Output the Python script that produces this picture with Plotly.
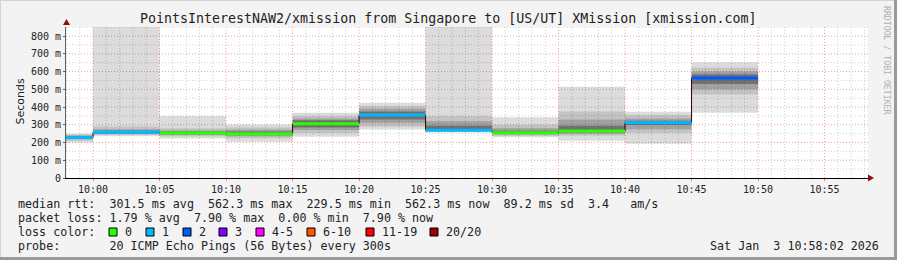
import plotly.graph_objects as go
from datetime import datetime, timedelta

# ---------------- data ----------------
seg_start = ["2026-01-03 09:55", "2026-01-03 10:00", "2026-01-03 10:05", "2026-01-03 10:10",
             "2026-01-03 10:15", "2026-01-03 10:20", "2026-01-03 10:25", "2026-01-03 10:30",
             "2026-01-03 10:35", "2026-01-03 10:40", "2026-01-03 10:45"]
seg_end_last = "2026-01-03 10:50"
median = [228, 258, 254, 250, 306, 355, 269, 255, 265, 312, 563]
loss = [1, 1, 0, 0, 0, 1, 1, 0, 0, 1, 2]
smoke_max = [250, 900, 350, 302, 368, 424, 900, 342, 514, 374, 652]
smoke_min = [200, 235, 222, 205, 232, 274, 257, 229, 210, 193, 368]
smoke_hi2 = [245, 290, 280, 285, 350, 405, 350, 300, 375, 355, 622]
smoke_lo2 = [210, 242, 235, 225, 253, 290, 262, 238, 240, 253, 470]
smoke_hi3 = [240, 275, 268, 272, 335, 390, 320, 280, 330, 335, 600]
smoke_lo3 = [218, 248, 242, 235, 270, 310, 264, 245, 250, 275, 500]
smoke_hi4 = [235, 266, 262, 262, 325, 375, 295, 266, 295, 322, 585]
smoke_lo4 = [222, 252, 248, 243, 285, 330, 266, 250, 258, 298, 530]

loss_labels = ["0", "1", "2", "3", "4-5", "6-10", "11-19", "20/20"]
loss_colors = ["#26ff00", "#00b8ff", "#0059ff", "#7e00ff", "#ff00ff", "#ff5500", "#ff0000", "#a00000"]

y_ticks = [0, 100, 200, 300, 400, 500, 600, 700, 800]
y_ticktext = ["0", "100 m", "200 m", "300 m", "400 m", "500 m", "600 m", "700 m", "800 m"]

title = "PointsInterestNAW2/xmission from Singapore to [US/UT] XMission [xmission.com]"
row_rtt = "median rtt:  301.5 ms avg  562.3 ms max  229.5 ms min  562.3 ms now  89.2 ms sd  3.4   am/s"
row_loss = "packet loss: 1.79 % avg  7.90 % max  0.00 % min  7.90 % now"
row_color = "loss color:"
row_probe = "probe:       20 ICMP Echo Pings (56 Bytes) every 300s"
stamp = "Sat Jan  3 10:58:02 2026"
x_range = ["2026-01-03 09:57:58", "2026-01-03 10:58:16"]
y_range = [0, 851]

# ---------------- layout geometry ----------------
W, H = 897, 260
L, R, T, B = 66, 868, 27, 178
MONO = "DejaVu Sans Mono"


def pxx(x):
    return (x - L) / (R - L)


def pyy(y):
    return (B - y) / (B - T)


xs = seg_start + [seg_end_last]


def step(vals):
    return list(vals) + [vals[-1]]


fig = go.Figure()

# translucent smoke so the grid shows through, like rrdtool
bands = [
    (smoke_min, smoke_max, "rgba(0,0,0,0.137)"),
    (smoke_lo2, smoke_hi2, "rgba(0,0,0,0.109)"),
    (smoke_lo3, smoke_hi3, "rgba(0,0,0,0.173)"),
    (smoke_lo4, smoke_hi4, "rgba(0,0,0,0.296)"),
]
for lo, hi, col in bands:
    fig.add_trace(go.Scatter(x=xs, y=step(lo), mode="lines", line=dict(width=0, shape="hv"),
                             hoverinfo="skip", showlegend=False))
    fig.add_trace(go.Scatter(x=xs, y=step(hi), mode="lines", line=dict(width=0, shape="hv"),
                             fill="tonexty", fillcolor=col, hoverinfo="skip", showlegend=False))

# thin dark step line for the median
fig.add_trace(go.Scatter(x=xs, y=step(median), mode="lines",
                         line=dict(width=1, color="#300000", shape="hv"),
                         hoverinfo="skip", showlegend=False))

# coloured median segments by loss
loss_bins = [0, 1, 2, 3, 5, 10, 19, 20]


def loss_idx(n):
    for i, ub in enumerate(loss_bins):
        if n <= ub:
            return i
    return len(loss_bins) - 1


for ci, col in enumerate(loss_colors):
    sx, sy = [], []
    for i in range(len(seg_start)):
        if loss_idx(loss[i]) == ci:
            sx += [xs[i], xs[i + 1], None]
            sy += [median[i], median[i], None]
    if sx:
        fig.add_trace(go.Scatter(x=sx, y=sy, mode="lines", line=dict(width=3, color=col),
                                 hoverinfo="skip", showlegend=False))

shapes = []
# dotted grid
t0 = datetime(2026, 1, 3, 9, 58)
for k in range(0, 61):
    t = t0 + timedelta(minutes=k)
    major = (t.minute % 5 == 0)
    shapes.append(dict(type="line", xref="x", yref="paper", x0=t, x1=t, y0=0, y1=1, layer="below",
                       line=dict(color="#f0a0a0" if major else "#cfcfcf", width=1, dash="1px,2px")))
for v in range(50, 851, 50):
    major = (v % 100 == 0)
    shapes.append(dict(type="line", xref="paper", yref="y", x0=0, x1=1, y0=v, y1=v, layer="below",
                       line=dict(color="#f0a0a0" if major else "#cfcfcf", width=1, dash="1px,2px")))

# axis arrows
shapes.append(dict(type="path", xref="paper", yref="paper", layer="above",
                   path=f"M {pxx(63)} {pyy(25)} L {pxx(70)} {pyy(25)} L {pxx(66.5)} {pyy(19)} Z",
                   fillcolor="#8b1010", line=dict(width=0)))
shapes.append(dict(type="path", xref="paper", yref="paper", layer="above",
                   path=f"M {pxx(868)} {pyy(174.5)} L {pxx(868)} {pyy(181.5)} L {pxx(874)} {pyy(178)} Z",
                   fillcolor="#8b1010", line=dict(width=0)))

# frame around image
shapes.append(dict(type="line", xref="paper", yref="paper", x0=pxx(0), x1=pxx(W), y0=pyy(0.5), y1=pyy(0.5),
                   line=dict(color="#d4d4d4", width=1)))
shapes.append(dict(type="line", xref="paper", yref="paper", x0=pxx(0.5), x1=pxx(0.5), y0=pyy(0), y1=pyy(H),
                   line=dict(color="#d4d4d4", width=1)))
shapes.append(dict(type="line", xref="paper", yref="paper", x0=pxx(0), x1=pxx(W), y0=pyy(H - 1.5), y1=pyy(H - 1.5),
                   line=dict(color="#9a9a9a", width=3)))
shapes.append(dict(type="line", xref="paper", yref="paper", x0=pxx(W - 1.5), x1=pxx(W - 1.5), y0=pyy(0), y1=pyy(H),
                   line=dict(color="#9a9a9a", width=3)))

annotations = []


def text(s, x, y, size=11.7, anchor="left", color="#222222", family=MONO, angle=0):
    annotations.append(dict(text=s, x=pxx(x), y=pyy(y), xref="paper", yref="paper",
                            xanchor=anchor, yanchor="middle", showarrow=False, textangle=angle,
                            font=dict(family=family, size=size, color=color)))


text(title, 448, 19, size=13.3, anchor="center")
text(row_rtt.replace(" ", "\u00a0"), 16, 204)
text(row_loss.replace(" ", "\u00a0"), 16, 218)
text(row_color.replace(" ", "\u00a0"), 16, 232)
text(row_probe.replace(" ", "\u00a0"), 16, 246)
text(stamp.replace(" ", "\u00a0"), 881, 246, anchor="right")
text("Seconds", 11, 102, size=11, family="DejaVu Sans", angle=-90)
text("RRDTOOL\u00a0/\u00a0TOBI\u00a0OETIKER", 887, 60, size=8.2, color="#b0b0b0", angle=90, anchor="center")

sq_left = [109, 146, 183, 219, 256, 307, 366, 430]
for xl, lab, col in zip(sq_left, loss_labels, loss_colors):
    shapes.append(dict(type="rect", xref="paper", yref="paper",
                       x0=pxx(xl), x1=pxx(xl + 8), y0=pyy(236), y1=pyy(228),
                       fillcolor=col, line=dict(color="#000000", width=1)))
    text(lab, xl + 14, 232)

fig.update_layout(
    width=W, height=H,
    margin=dict(l=L, r=W - R, t=T, b=H - B, pad=0),
    paper_bgcolor="#f3f3f3", plot_bgcolor="#ffffff",
    showlegend=False,
    shapes=shapes, annotations=annotations,
    xaxis=dict(type="date", range=x_range, tickformat="%H:%M", dtick=300000,
               tick0="2026-01-03 10:00", showgrid=False, zeroline=False,
               showline=True, linecolor="#000000", linewidth=1,
               ticks="outside", ticklen=2, tickcolor="#f08080",
               tickfont=dict(family=MONO, size=10, color="#222222")),
    yaxis=dict(range=y_range, tickvals=y_ticks, ticktext=y_ticktext, showgrid=False,
               zeroline=False, showline=True, linecolor="#606060", linewidth=1,
               ticks="outside", ticklen=2, tickcolor="#606060",
               tickfont=dict(family=MONO, size=10, color="#222222")),
)

fig.write_html("out.html")
